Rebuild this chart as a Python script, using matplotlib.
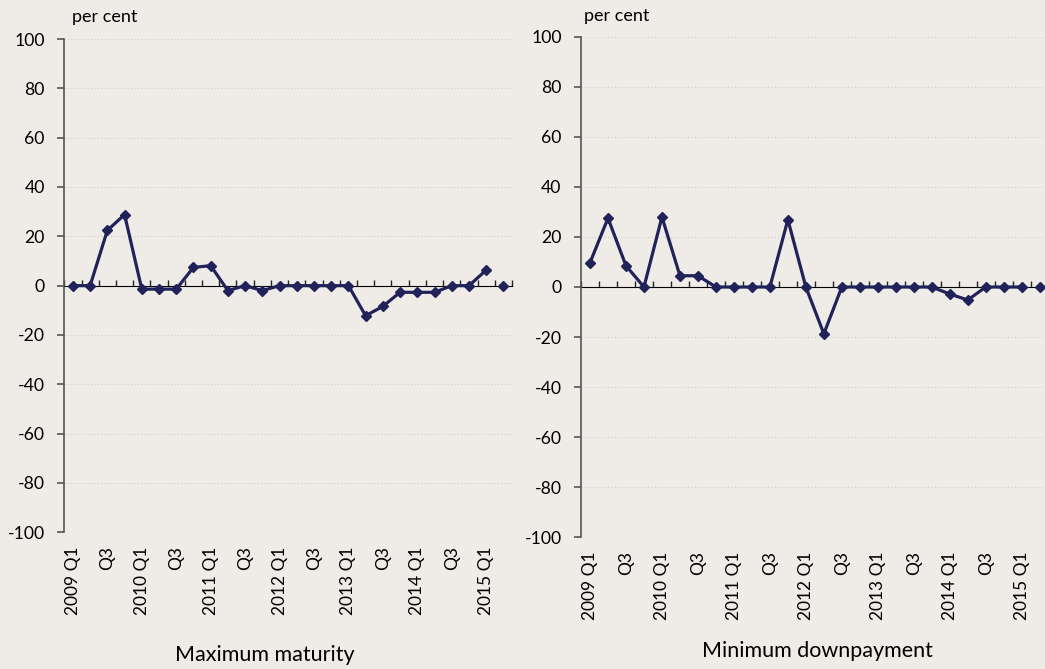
import numpy as np
import matplotlib
matplotlib.use("Agg")
import matplotlib.pyplot as plt

plt.rcParams['font.family'] = ['Lato', 'DejaVu Sans']
plt.rcParams['axes.unicode_minus'] = False

quarters = [f"{y} Q{q}" for y in range(2009, 2016) for q in range(1, 5)][:26]
tick_labels = ["2009 Q1", "Q3", "2010 Q1", "Q3", "2011 Q1", "Q3", "2012 Q1", "Q3",
               "2013 Q1", "Q3", "2014 Q1", "Q3", "2015 Q1"]

max_maturity = [0, 0, 22.4, 28.8, -1.4, -1.4, -1.4, 7.4, 8.1, -2.0, 0, -2.0, 0,
                0, 0, 0, 0, -12.2, -8.4, -2.7, -2.7, -2.7, 0, 0, 6.3, 0]
min_downpayment = [9.7, 27.5, 8.5, 0, 28.0, 4.5, 4.5, 0, 0, 0, 0, 26.9, 0,
                   -18.7, 0, 0, 0, 0, 0, 0, -2.8, -5.2, 0, 0, 0, 0]

titles = ["Maximum maturity", "Minimum downpayment"]

bg = '#efece8'
line_color = '#22225a'

fig = plt.figure(figsize=(10.45, 6.69), dpi=100, facecolor=bg)
W, H = 1045, 669
positions = [
    (64.3 / W, 1 - 532.3 / H, (512 - 64.3) / W, (532.3 - 39) / H),
    (581 / W, 1 - 537.3 / H, (1048.7 - 581) / W, (537.3 - 36.7) / H),
]
title_pos = [(265 / W, 1 - 655 / H), (817.5 / W, 1 - 651 / H)]
percent_pos = [(72 / W, 1 - 17 / H), (584 / W, 1 - 16 / H)]

for i, vals in enumerate([max_maturity, min_downpayment]):
    ax = fig.add_axes(positions[i])
    ax.set_facecolor(bg)
    x = np.arange(len(vals))
    ax.set_xlim(-0.5, len(vals) - 0.5)
    ax.set_ylim(-100, 100)
    ax.set_yticks(np.arange(-100, 101, 20))
    for yv in np.arange(-100, 101, 20):
        if yv != 0:
            ax.axhline(yv, color='#cfcfcf', lw=0.8, ls=(0, (1, 2)), zorder=0)
    for s in ['top', 'right', 'bottom']:
        ax.spines[s].set_visible(False)
    ax.spines['left'].set_color('#555555')
    ax.spines['left'].set_linewidth(1.2)
    ax.tick_params(axis='y', length=5, width=1.2, color='#555555', pad=9,
                   labelsize=12.7, labelcolor='black')
    ax.set_xticks(x[::2])
    ax.set_xticklabels(tick_labels, rotation=90, fontsize=12.5)
    ax.tick_params(axis='x', length=0, pad=10)

    sec = ax.secondary_xaxis(0.5)
    sec.spines['bottom'].set_color('#222222')
    sec.spines['bottom'].set_linewidth(1.0)
    sec.set_xticks(np.arange(-0.5, len(vals), 1.0))
    sec.set_xticklabels([])
    sec.tick_params(axis='x', direction='out', length=4.5, width=1.0, color='#222222')

    ax.plot(x[:-1], vals[:-1], color=line_color, lw=2.3, marker='D', ms=5,
            zorder=3, clip_on=False)
    ax.plot(x[-1:], vals[-1:], color=line_color, lw=0, marker='D', ms=5,
            zorder=3, clip_on=False)

    fig.text(*percent_pos[i], "per cent", fontsize=13, ha='left', va='center')
    fig.text(*title_pos[i], titles[i], fontsize=15.5, ha='center', va='center')

fig.savefig("out.png", dpi=100, facecolor=bg)
